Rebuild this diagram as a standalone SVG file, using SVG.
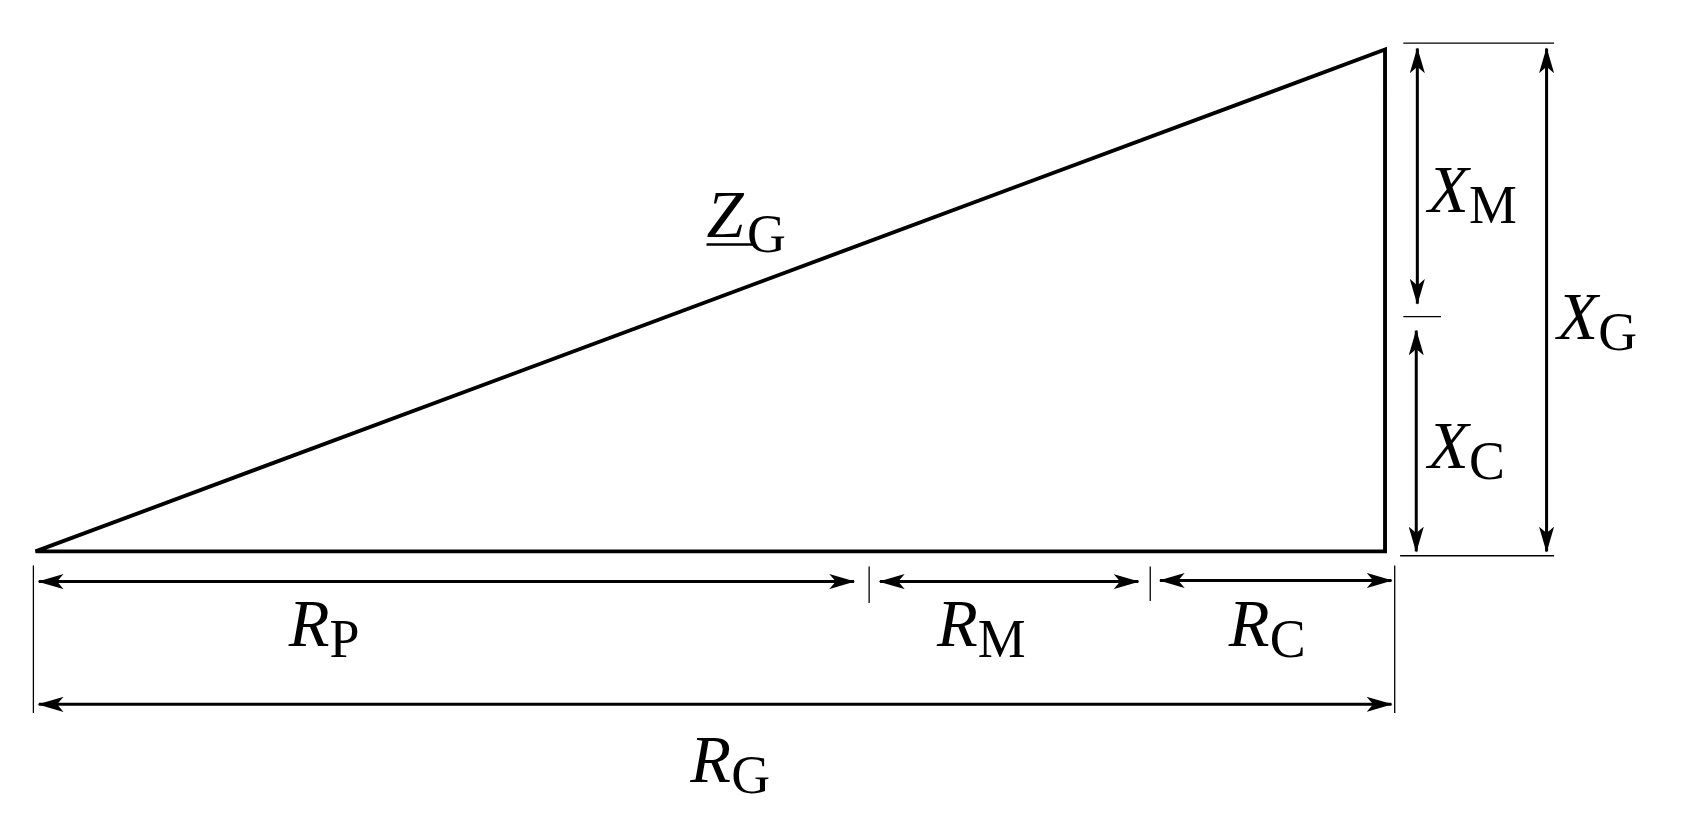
<svg xmlns="http://www.w3.org/2000/svg" width="1686" height="819" viewBox="0 0 1686 819">
<style>
.dim{stroke:#000;stroke-width:2.8;fill:none;marker-start:url(#a);marker-end:url(#a)}
.thin{stroke:#000;stroke-width:1.2}
.t{font-family:"Liberation Serif",serif;font-size:62px;font-style:italic}
.s{font-style:normal;font-size:50px}
</style>
<defs>
<marker id="a" viewBox="0 0 24 14" refX="23" refY="7" markerWidth="24" markerHeight="14" markerUnits="userSpaceOnUse" orient="auto-start-reverse">
<path d="M0,0 L24,7 L0,14 L6,7 Z" fill="#000"/>
</marker>
</defs>
<rect width="1686" height="819" fill="#fff"/>
<g transform="scale(1.077)">
<g id="triangle"><path d="M33,512 L1286,46 L1286,512 Z" fill="none" stroke="#000" stroke-width="3.6" stroke-linejoin="miter"/></g>
<g id="connectors">
<line class="thin" x1="31" y1="525" x2="31" y2="662"/>
<line class="thin" x1="1295" y1="525" x2="1295" y2="662"/>
<line class="thin" x1="807" y1="526" x2="807" y2="560"/>
<line class="thin" x1="1068" y1="526" x2="1068" y2="558"/>
<line class="dim" x1="36" y1="540" x2="793" y2="540"/>
<line class="dim" x1="817" y1="540" x2="1057" y2="540"/>
<line class="dim" x1="1077" y1="539" x2="1292" y2="539"/>
<line class="dim" x1="36" y1="654" x2="1292" y2="654"/>
<line class="thin" x1="1303" y1="40" x2="1443" y2="40"/>
<line class="thin" x1="1300" y1="516" x2="1443" y2="516"/>
<line class="thin" x1="1303" y1="294" x2="1338" y2="294"/>
<line class="dim" x1="1316" y1="45" x2="1316" y2="282"/>
<line class="dim" x1="1315" y1="307" x2="1315" y2="512"/>
<line class="dim" x1="1436" y1="45" x2="1436" y2="512"/>
</g>
<g id="labels">
<text class="t" x="268" y="600">R<tspan class="s" dy="10">P</tspan></text>
<text class="t" x="870" y="600">R<tspan class="s" dy="10">M</tspan></text>
<text class="t" x="1141" y="600">R<tspan class="s" dy="10">C</tspan></text>
<text class="t" x="641" y="726">R<tspan class="s" dy="10">G</tspan></text>
<text class="t" x="1326" y="197">X<tspan class="s" dy="10">M</tspan></text>
<text class="t" x="1326" y="435">X<tspan class="s" dy="10">C</tspan></text>
<text class="t" x="1446" y="315">X<tspan class="s" dy="10">G</tspan></text>
<text class="t" x="656" y="220">Z<tspan class="s" dx="3" dy="14">G</tspan></text>
<line x1="656" y1="227" x2="699" y2="227" stroke="#000" stroke-width="2.4"/>
</g>
</g>
</svg>
